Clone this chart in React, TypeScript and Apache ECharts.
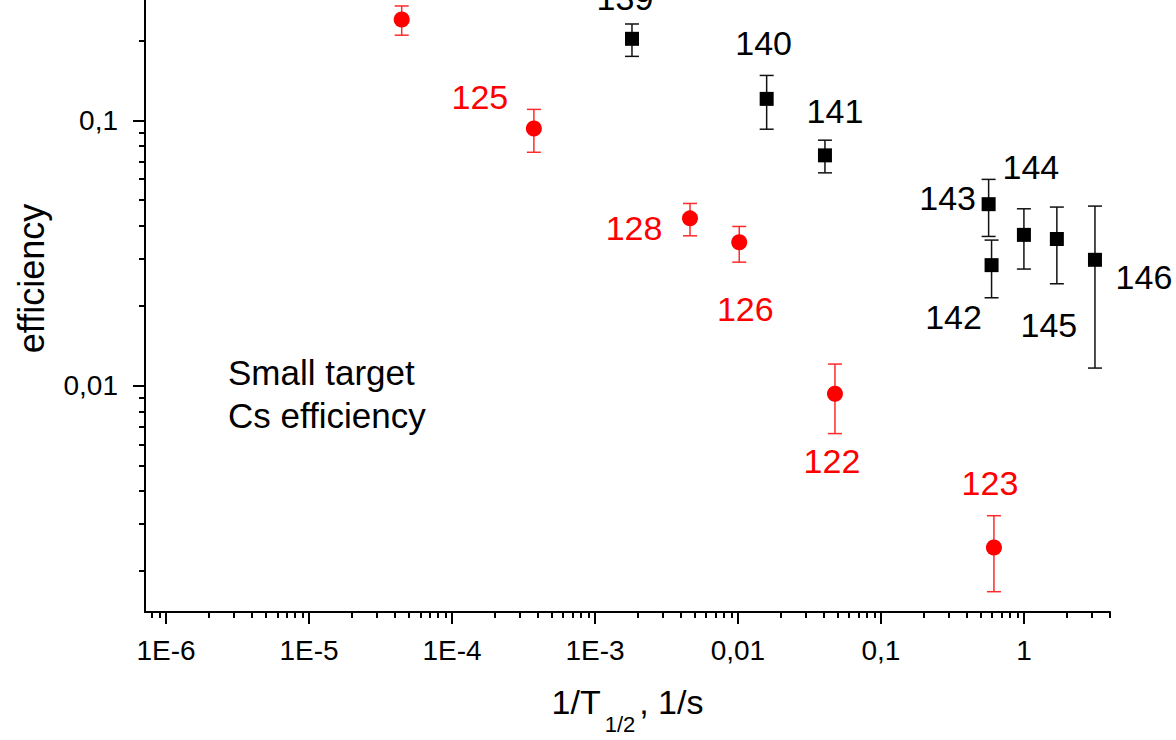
import React, { useEffect, useRef } from 'react';
import * as echarts from 'echarts';

const FONT = '"Liberation Sans", Arial, Helvetica, sans-serif';

// Neutron-deficient Cs isotopes (red circles)
const lightLabels = ['', '125', '128', '126', '122', '123'];
const lightRate = [4.45e-5, 3.74e-4, 4.62e-3, 1.021e-2, 4.77e-2, 0.617];
const lightEff = [0.24, 0.0932, 0.0427, 0.0347, 0.00931, 0.00245];
const lightErrLow = [0.2095, 0.0758, 0.0367, 0.0292, 0.00659, 0.00167];
const lightErrHigh = [0.27, 0.11, 0.0486, 0.0398, 0.01205, 0.00323];

// Neutron-rich Cs isotopes (black squares)
const heavyLabels = ['139', '140', '141', '142', '143', '144', '145', '146'];
const heavyRate = [1.815e-3, 1.588e-2, 4.06e-2, 0.594, 0.5665, 1.0, 1.7, 3.14];
const heavyEff = [0.203, 0.1205, 0.0738, 0.02845, 0.0483, 0.037, 0.0357, 0.0298];
const heavyErrLow = [0.1743, 0.0926, 0.0634, 0.02143, 0.0365, 0.0275, 0.0242, 0.01164];
const heavyErrHigh = [0.2309, 0.1477, 0.0842, 0.03536, 0.0599, 0.0464, 0.0471, 0.0475];

// Axis ticks
const xMajorTicks = [1e-6, 1e-5, 1e-4, 1e-3, 1e-2, 1e-1, 1];
const xTickLabels = ['1E-6', '1E-5', '1E-4', '1E-3', '0,01', '0,1', '1'];
const yMajorTicks = [0.01, 0.1];
const yTickLabels = ['0,01', '0,1'];

const X_MIN = 7.13e-7;
const X_MAX = 4;
const Y_MIN = 0.0014;
const Y_MAX = 0.5;

// The plot frame runs above the visible page; the chart canvas is shifted up by this much
const SHIFT = 65;

// Label placement around each marker, in pixels
const lightLabelOffsets = [[0, 0], [-54, -31], [-56, 10], [6, 67], [-3, 67], [-4, -65]];
const heavyLabelOffsets = [[-7, -41], [-3, -56], [10, -44], [-38, 52], [-41, -6], [7, -68], [-8, 86], [49, 17]];

function minorTicks(min: number, max: number): number[] {
  const out: number[] = [];
  for (let p = -8; p <= 1; p++) {
    for (let m = 2; m <= 9; m++) {
      const v = m * Math.pow(10, p);
      if (v >= min * 0.9999 && v <= max * 1.0001) out.push(Number(v.toPrecision(6)));
    }
  }
  return out;
}

function tickLabel(ticks: number[], labels: string[]) {
  return (v: number) => {
    const i = ticks.findIndex((t) => Math.abs(Math.log10(t) - Math.log10(v)) < 1e-6);
    return i >= 0 ? labels[i] : '';
  };
}

function errorBars(rate: number[], lo: number[], hi: number[], color: string) {
  return {
    type: 'custom',
    xAxisIndex: 0,
    yAxisIndex: 0,
    silent: true,
    z: 2,
    clip: false,
    data: rate.map((x, i) => [x, lo[i], hi[i]]),
    encode: { x: 0, y: [1, 2] },
    renderItem: (_params: any, api: any) => {
      const x = api.value(0);
      const top = api.coord([x, api.value(2)]);
      const bot = api.coord([x, api.value(1)]);
      const half = 7;
      const style = { stroke: color, lineWidth: 1.5, fill: 'none', opacity: 1 };
      return {
        type: 'group',
        children: [
          { type: 'line', shape: { x1: top[0], y1: top[1], x2: bot[0], y2: bot[1] }, style },
          { type: 'line', shape: { x1: top[0] - half, y1: top[1], x2: top[0] + half, y2: top[1] }, style },
          { type: 'line', shape: { x1: bot[0] - half, y1: bot[1], x2: bot[0] + half, y2: bot[1] }, style },
        ],
      };
    },
  };
}

function points(
  rate: number[],
  eff: number[],
  labels: string[],
  offsets: number[][],
  color: string,
  symbol: string,
  size: number
) {
  return {
    type: 'scatter',
    xAxisIndex: 0,
    yAxisIndex: 0,
    symbol,
    symbolSize: size,
    z: 3,
    itemStyle: { color, opacity: 1 },
    label: {
      show: true,
      position: 'inside',
      color,
      opacity: 1,
      fontFamily: FONT,
      fontSize: 34,
    },
    data: rate.map((x, i) => ({
      value: [x, eff[i]],
      label: { formatter: labels[i], offset: offsets[i] },
    })),
  };
}

const axisLineStyle = { color: '#000', width: 2 };

export default function App() {
  const ref = useRef<HTMLDivElement>(null);

  useEffect(() => {
    if (!ref.current) return;
    const chart = echarts.init(ref.current, undefined, { renderer: 'svg' });

    const option: any = {
      animation: false,
      backgroundColor: '#fff',
      textStyle: { fontFamily: FONT },
      grid: { left: 145, right: 66, top: 0, bottom: 121, containLabel: false },
      xAxis: [
        {
          type: 'log',
          logBase: 10,
          min: X_MIN,
          max: X_MAX,
          position: 'bottom',
          axisLine: { show: true, onZero: false, lineStyle: axisLineStyle },
          axisTick: { show: true, inside: false, length: 12, lineStyle: axisLineStyle, customValues: xMajorTicks },
          axisLabel: {
            show: true,
            customValues: xMajorTicks,
            formatter: tickLabel(xMajorTicks, xTickLabels),
            color: '#000',
            fontFamily: FONT,
            fontSize: 28,
            margin: 24,
          },
          splitLine: { show: false },
          minorTick: { show: false },
          name: '{m|1/T}{sub|1/2}{m|, 1/s}',
          nameLocation: 'middle',
          nameGap: 73,
          nameTextStyle: {
            color: '#000',
            rich: {
              m: { fontFamily: FONT, fontSize: 34, lineHeight: 34, verticalAlign: 'top', color: '#000' },
              sub: { fontFamily: FONT, fontSize: 22, lineHeight: 22, verticalAlign: 'top', padding: [28, 4, 0, 4], color: '#000' },
            },
          },
        },
        {
          type: 'log',
          logBase: 10,
          min: X_MIN,
          max: X_MAX,
          position: 'bottom',
          axisLine: { show: false, onZero: false },
          axisTick: { show: true, inside: false, length: 6, lineStyle: axisLineStyle, customValues: minorTicks(X_MIN, X_MAX) },
          axisLabel: { show: false },
          splitLine: { show: false },
        },
      ],
      yAxis: [
        {
          type: 'log',
          logBase: 10,
          min: Y_MIN,
          max: Y_MAX,
          position: 'left',
          axisLine: { show: true, onZero: false, lineStyle: axisLineStyle },
          axisTick: { show: true, inside: false, length: 12, lineStyle: axisLineStyle, customValues: yMajorTicks },
          axisLabel: {
            show: true,
            customValues: yMajorTicks,
            formatter: tickLabel(yMajorTicks, yTickLabels),
            color: '#000',
            fontFamily: FONT,
            fontSize: 28,
            margin: 27,
          },
          splitLine: { show: false },
          name: 'efficiency',
          nameLocation: 'middle',
          nameGap: 96,
          nameTextStyle: { color: '#000', fontFamily: FONT, fontSize: 36, padding: [0, 10, 0, 0] },
        },
        {
          type: 'log',
          logBase: 10,
          min: Y_MIN,
          max: Y_MAX,
          position: 'left',
          axisLine: { show: false, onZero: false },
          axisTick: { show: true, inside: false, length: 6, lineStyle: axisLineStyle, customValues: minorTicks(Y_MIN, Y_MAX) },
          axisLabel: { show: false },
          splitLine: { show: false },
        },
      ],
      graphic: [
        {
          type: 'text',
          left: 228,
          top: 351 + SHIFT,
          style: {
            text: 'Small target\nCs efficiency',
            fontFamily: FONT,
            fontSize: 35,
            lineHeight: 43,
            fill: '#000',
          },
        },
      ],
      series: [
        errorBars(lightRate, lightErrLow, lightErrHigh, '#ff2a2a'),
        errorBars(heavyRate, heavyErrLow, heavyErrHigh, '#111'),
        points(lightRate, lightEff, lightLabels, lightLabelOffsets, '#ff0000', 'circle', 16),
        points(heavyRate, heavyEff, heavyLabels, heavyLabelOffsets, '#000', 'rect', 14),
      ],
    };

    chart.setOption(option);
    return () => chart.dispose();
  }, []);

  return (
    <div
      ref={ref}
      style={{ position: 'absolute', left: 0, top: -SHIFT, width: 1176, height: 740 + SHIFT, background: '#fff' }}
    />
  );
}
